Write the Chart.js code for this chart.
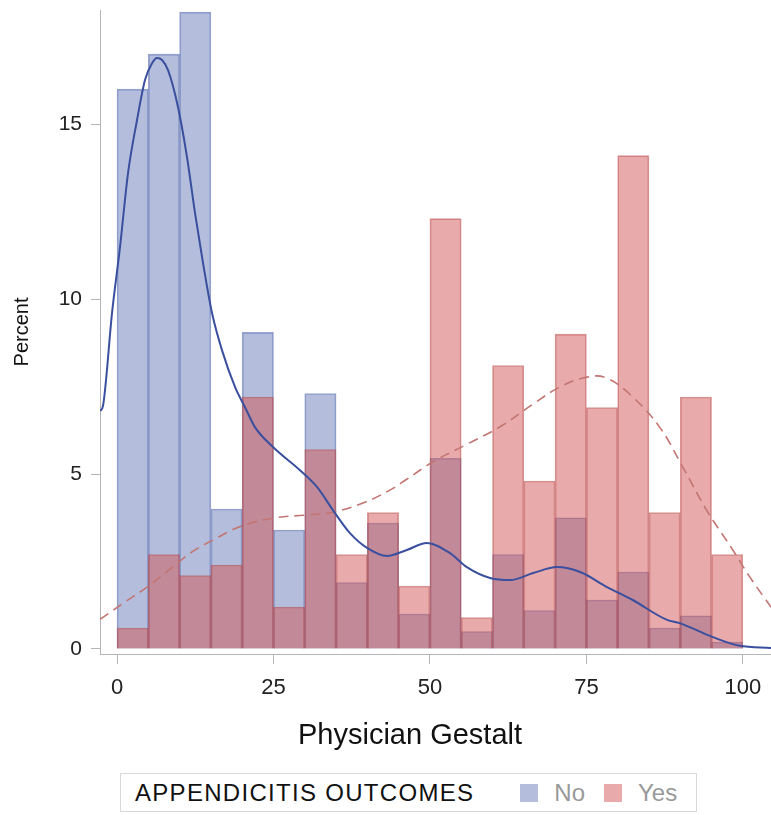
<!DOCTYPE html>
<html>
<head>
<meta charset="utf-8">
<script src="https://cdn.jsdelivr.net/npm/chart.js@4/dist/chart.umd.min.js"></script>
<style>
  body { margin: 0; background: #fff; font-family: "Liberation Sans", Arial, sans-serif; }
  #wrap { position: absolute; left: 0; top: 0; width: 771px; height: 765px; }
  #xtitle {
    position: absolute; left: 210px; width: 400px; top: 716px; text-align: center;
    font-size: 29px; color: #111; line-height: 36px;
  }
  #legend {
    position: absolute; left: 120px; top: 773px; width: 577px; height: 39px;
    border: 1px solid #d8d8d8; box-sizing: border-box; white-space: nowrap;
    display: flex; align-items: center; font-size: 24px; color: #111;
  }
  #legend span { flex-shrink: 0; }
  #legend .title { margin-left: 14px; margin-right: 46px; letter-spacing: 1.3px; }
  #legend .sw { width: 18px; height: 18px; margin-right: 16px; }
  #legend .lbl { color: #999; margin-right: 19px; }
</style>
</head>
<body>
<div id="wrap"><canvas id="chart"></canvas></div>
<div id="xtitle">Physician Gestalt</div>
<div id="legend">
  <span class="title">APPENDICITIS OUTCOMES</span>
  <span class="sw" style="background:#b4bedc"></span><span class="lbl">No</span>
  <span class="sw" style="background:#e8aaaa"></span><span class="lbl">Yes</span>
</div>
<script>
// histogram bins (midpoints of 5-wide bins, 0..100)
const binMids = [2.5, 7.5, 12.5, 17.5, 22.5, 27.5, 32.5, 37.5, 42.5, 47.5,
                 52.5, 57.5, 62.5, 67.5, 72.5, 77.5, 82.5, 87.5, 92.5, 97.5];
const pctNo  = [16.0, 17.0, 18.2, 4.0, 9.05, 3.4, 7.3, 1.9, 3.6, 1.0,
                5.45, 0.5, 2.7, 1.1, 3.75, 1.4, 2.2, 0.6, 0.95, 0.2];
const pctYes = [0.6, 2.7, 2.1, 2.4, 7.2, 1.2, 5.7, 2.7, 3.9, 1.8,
                12.3, 0.9, 8.1, 4.8, 9.0, 6.9, 14.1, 3.9, 7.2, 2.7];

// density curves
const kdeNoX = [-2.7, -2.24, -0.8, 0.48, 1.76, 3.19, 4.47, 5.59, 6.39, 7.19, 8.15, 9.74,
                11.18, 12.46, 13.74, 15.18, 16.77, 18.85, 20.45, 22.04, 24.92, 29.23,
                31.95, 34.5, 37.22, 39.94, 43.13, 46.3, 49.5, 53.2, 55.9, 59.6, 62.8,
                66.5, 70.3, 74, 78.3, 82.4, 87.9, 89.9, 95.2, 99.5, 104.5];
const kdeNoY = [6.8, 6.95, 9.6, 11.49, 13.6, 15.11, 16.26, 16.74, 16.89, 16.83, 16.54, 15.49,
                14.06, 12.46, 11.03, 9.6, 8.54, 7.49, 6.91, 6.34, 5.77, 5.11,
                4.63, 3.97, 3.31, 2.89, 2.66, 2.83, 3.03, 2.74, 2.34, 2.03, 1.97,
                2.17, 2.34, 2.2, 1.77, 1.4, 0.83, 0.74, 0.34, 0.09, 0.03];
const kdeYesX = [-2.7, -2.2, 1.0, 4.8, 8.9, 11.7, 15.3, 19.6, 24.9, 30.4, 34.5, 39.3,
                 43.6, 46.3, 50.5, 55.9, 61.2, 66.5, 70.8, 75.1, 78.3, 82.4, 86.7,
                 90.4, 94.2, 98.4, 101.1, 104.5];
const kdeYesY = [0.85, 0.91, 1.31, 1.77, 2.34, 2.74, 3.11, 3.49, 3.74, 3.83, 3.91, 4.17,
                 4.54, 4.85, 5.35, 5.85, 6.35, 7.0, 7.49, 7.77, 7.74, 7.2, 6.34,
                 5.2, 3.97, 2.83, 2.06, 1.2];

const xTicks = [0, 25, 50, 75, 100];
const yTicks = [0, 5, 10, 15];

function pts(xs, ys) { return xs.map((x, i) => ({ x: x, y: ys[i] })); }

const font = "'Liberation Sans', Arial, sans-serif";

let ctx = document.getElementById("chart").getContext("2d");
new Chart(ctx, {
  data: {
    datasets: [
      {
        type: "line", label: "No density", data: pts(kdeNoX, kdeNoY),
        borderColor: "#3b4f9f", borderWidth: 2, pointRadius: 0,
        cubicInterpolationMode: "monotone", order: 0
      },
      {
        type: "line", label: "Yes density", data: pts(kdeYesX, kdeYesY),
        borderColor: "#c37572", borderWidth: 1.6, borderDash: [10, 6], pointRadius: 0,
        tension: 0.4, order: 0
      },
      {
        type: "bar", label: "Yes", data: pts(binMids, pctYes),
        backgroundColor: "rgba(210,85,85,0.5)", borderColor: "rgba(180,70,70,0.55)",
        borderWidth: 1, grouped: false, barPercentage: 1, categoryPercentage: 1, order: 1
      },
      {
        type: "bar", label: "No", data: pts(binMids, pctNo),
        backgroundColor: "rgba(105,125,185,0.5)", borderColor: "rgba(85,105,175,0.6)",
        borderWidth: 1, grouped: false, barPercentage: 1, categoryPercentage: 1, order: 2
      }
    ]
  },
  options: {
    responsive: true,
    maintainAspectRatio: false,
    animation: false,
    layout: { padding: { top: 10, right: 0, left: 0, bottom: 0 } },
    plugins: { legend: { display: false }, tooltip: { enabled: false } },
    scales: {
      x: {
        type: "linear", min: -2.72, max: 104.5, offset: false,
        afterBuildTicks: s => { s.ticks = xTicks.map(v => ({ value: v })); },
        afterFit: s => { s.height = 111; s.paddingLeft = 0; s.paddingRight = 0; },
        grid: { drawOnChartArea: false, offset: false, tickLength: 10, color: "#b5b5b5" },
        border: { color: "#b5b5b5" },
        ticks: { padding: 11, color: "#222", font: { family: font, size: 22 } }
      },
      y: {
        type: "linear", min: -0.143, max: 18.26,
        afterBuildTicks: s => { s.ticks = yTicks.map(v => ({ value: v })); },
        afterFit: s => { s.width = 100; s.paddingTop = 0; s.paddingBottom = 0; },
        grid: { drawOnChartArea: false, tickLength: 9, color: "#b5b5b5" },
        border: { color: "#b5b5b5" },
        ticks: { padding: 9, color: "#222", font: { family: font, size: 21 } },
        title: { display: true, text: "Percent", color: "#111",
                 font: { family: font, size: 20 }, padding: { top: 10, bottom: 0 } }
      }
    }
  }
});
</script>
</body>
</html>
